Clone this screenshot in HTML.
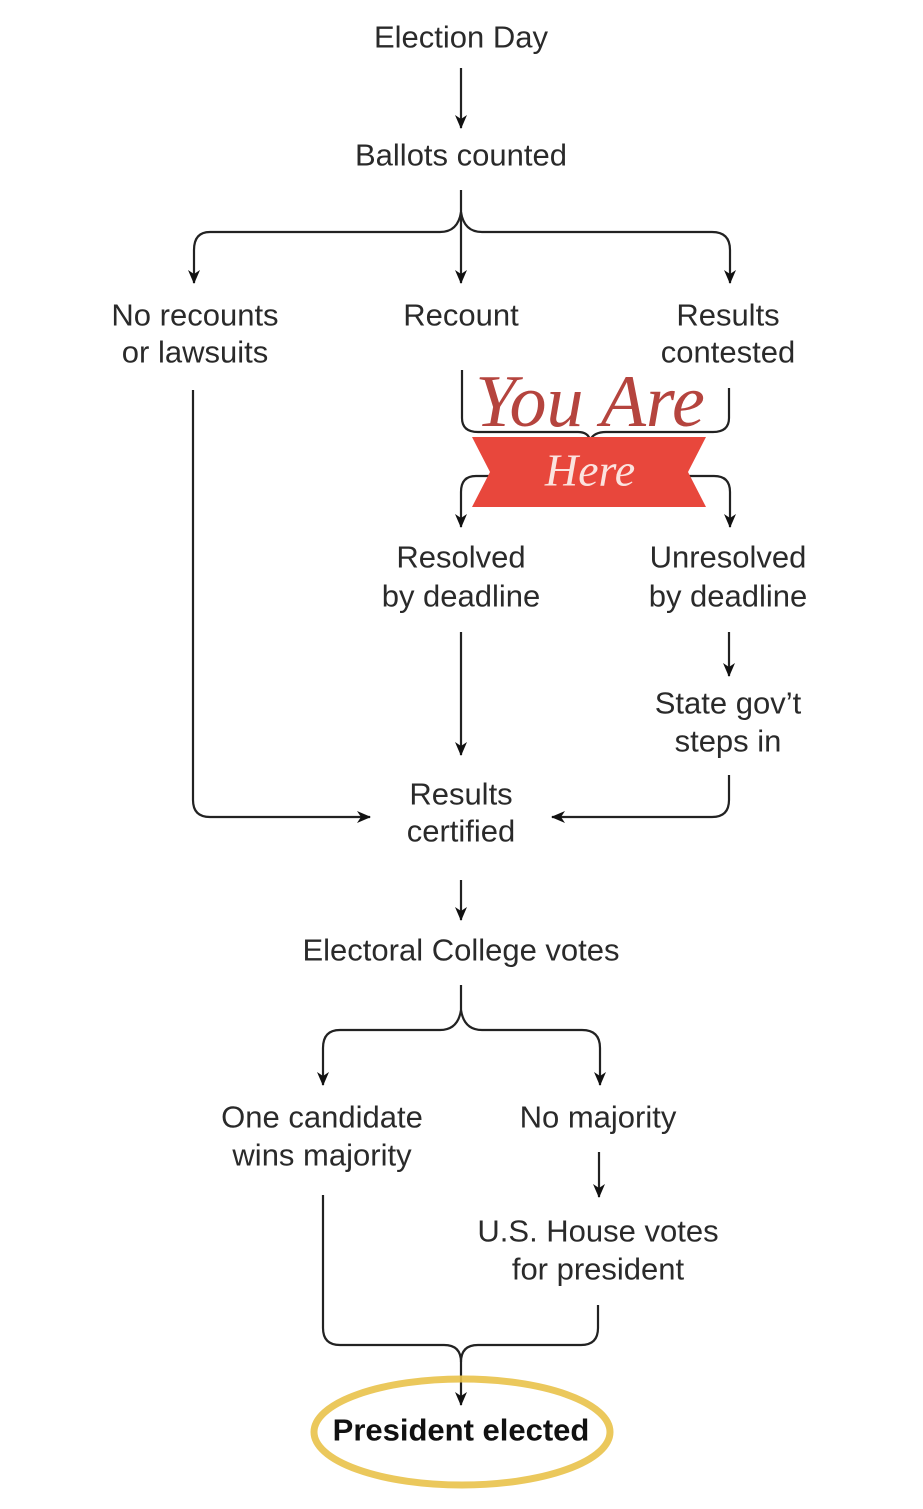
<!DOCTYPE html>
<html><head><meta charset="utf-8"><style>
html,body{margin:0;padding:0;background:#fff}
svg{display:block}
text{font-family:"Liberation Sans",sans-serif;font-size:31px;fill:#2a2a2a;text-anchor:middle;dominant-baseline:central}
</style></head><body>
<svg width="923" height="1509" viewBox="0 0 923 1509" xmlns="http://www.w3.org/2000/svg">
<defs>
<marker id="a" markerWidth="14" markerHeight="12" refX="13" refY="6" orient="auto" markerUnits="userSpaceOnUse" viewBox="0 0 14 12">
<path d="M0,0 L14,6 L0,12 L4,6 Z" fill="#111"/>
</marker>
</defs>
<g fill="none" stroke="#222" stroke-width="2.2">
<line x1="461" y1="68" x2="461" y2="128" marker-end="url(#a)"/>
<path d="M461,190 L461,283" marker-end="url(#a)"/>
<path d="M461,212 Q458,232 440,232 L210,232 Q194,232 194,250 L194,283" marker-end="url(#a)"/>
<path d="M461,212 Q464,232 482,232 L712,232 Q730,232 730,250 L730,283" marker-end="url(#a)"/>
<path d="M462,370 L462,418 Q462,432 478,432 L578,432 Q588,432 590,440"/>
<path d="M729,388 L729,418 Q729,432 713,432 L606,432 Q594,432 590,440"/>
<path d="M492,476 L476,476 Q461,476 461,492 L461,527" marker-end="url(#a)"/>
<path d="M688,476 L714,476 Q730,476 730,492 L730,527" marker-end="url(#a)"/>
<line x1="729" y1="632" x2="729" y2="676" marker-end="url(#a)"/>
<line x1="461" y1="632" x2="461" y2="755" marker-end="url(#a)"/>
<path d="M193,390 L193,800 Q193,817 210,817 L370,817" marker-end="url(#a)"/>
<path d="M729,775 L729,800 Q729,817 712,817 L552,817" marker-end="url(#a)"/>
<line x1="461" y1="880" x2="461" y2="920" marker-end="url(#a)"/>
<path d="M461,985 L461,1010 Q458,1030 440,1030 L340,1030 Q323,1030 323,1048 L323,1085" marker-end="url(#a)"/>
<path d="M461,1010 Q464,1030 482,1030 L582,1030 Q600,1030 600,1048 L600,1085" marker-end="url(#a)"/>
<line x1="599" y1="1152" x2="599" y2="1197" marker-end="url(#a)"/>
<path d="M323,1195 L323,1328 Q323,1345 340,1345 L444,1345 Q461,1345 461,1362 L461,1405" marker-end="url(#a)"/>
<path d="M598,1305 L598,1328 Q598,1345 581,1345 L478,1345 Q461,1345 461,1362"/>
</g>
<polygon points="472,437 706,437 688,472 706,507 472,507 490,472" fill="#e8473c"/>
<text x="590" y="470" style="font-family:'Liberation Serif',serif;font-style:italic;font-size:46px;fill:#fbe3df">Here</text>
<text x="590" y="402" style="font-family:'Liberation Serif',serif;font-style:italic;font-size:74px;fill:#b5443e">You Are</text>
<text x="461" y="37">Election Day</text>
<text x="461" y="155">Ballots counted</text>
<text x="195" y="315">No recounts</text>
<text x="195" y="352">or lawsuits</text>
<text x="461" y="315">Recount</text>
<text x="728" y="315">Results</text>
<text x="728" y="352">contested</text>
<text x="461" y="557">Resolved</text>
<text x="461" y="596">by deadline</text>
<text x="728" y="557">Unresolved</text>
<text x="728" y="596">by deadline</text>
<text x="728" y="703">State gov’t</text>
<text x="728" y="741">steps in</text>
<text x="461" y="794">Results</text>
<text x="461" y="831">certified</text>
<text x="461" y="950">Electoral College votes</text>
<text x="322" y="1117">One candidate</text>
<text x="322" y="1155">wins majority</text>
<text x="598" y="1117">No majority</text>
<text x="598" y="1231">U.S. House votes</text>
<text x="598" y="1269">for president</text>
<ellipse cx="462" cy="1432" rx="148" ry="53" fill="none" stroke="#e9c24a" stroke-width="7" opacity="0.9"/>
<text x="461" y="1430" style="font-weight:bold;fill:#111">President elected</text>
</svg>
</body></html>
